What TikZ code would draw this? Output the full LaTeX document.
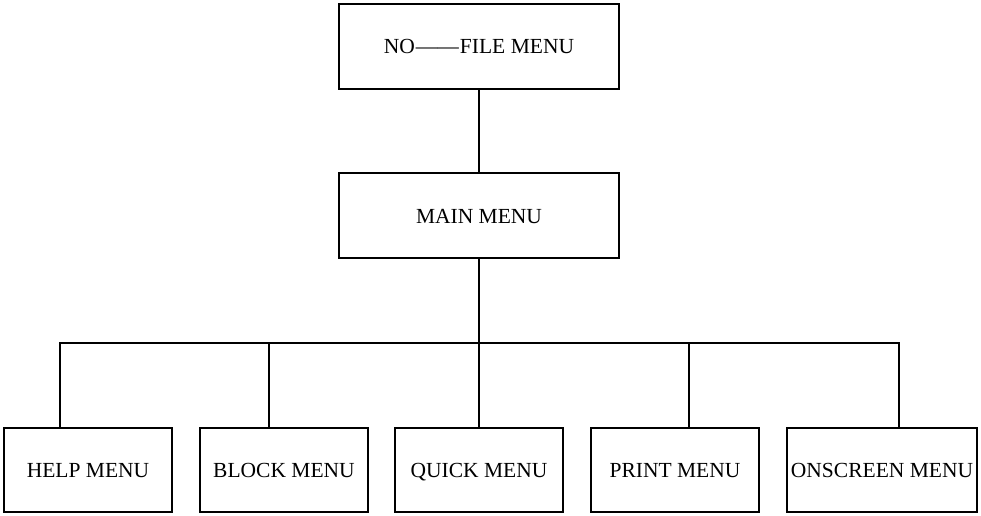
\documentclass[tikz,border=0pt]{standalone}
\usepackage{fontspec}
\setmainfont{Liberation Serif}
\begin{document}
\begin{tikzpicture}[x=1pt,y=1pt,
  menubox/.style={draw, line width=1.3pt, rectangle, minimum height=85pt, inner sep=0pt, text height=15pt, text depth=0pt, font=\fontsize{21.5}{24}\selectfont},
  link/.style={line width=1.3pt, line join=miter}]
\useasboundingbox (0,0) rectangle (981,515);
\node[menubox, minimum width=280pt] (nofile) at (479,468.5) {NO\kern1pt——\kern1pt FILE MENU};
\node[menubox, minimum width=280pt] (main) at (479,299.5) {MAIN MENU};
\node[menubox, minimum width=168pt, minimum height=84pt] (help) at (88,45) {HELP MENU};
\node[menubox, minimum width=168pt, minimum height=84pt] (block) at (284,45) {BLOCK MENU};
\node[menubox, minimum width=168pt, minimum height=84pt] (quick) at (479,45) {QUICK MENU};
\node[menubox, minimum width=168pt, minimum height=84pt] (print) at (675,45) {PRINT MENU};
\node[menubox, minimum width=190pt, minimum height=84pt] (onscreen) at (882,45) {ONSCREEN MENU};
\coordinate (bus) at (479,172);
\draw[link] (nofile.south) -- (main.north);
\draw[link] (main.south) -- (quick.north);
\coordinate (busL) at ([xshift=-28pt]help.north |- bus);
\coordinate (busR) at ([xshift=17pt]onscreen.north |- bus);
\draw[link] ([xshift=-28pt]help.north) -- (busL) -- (busR) -- ([xshift=17pt]onscreen.north);
\draw[link] ([xshift=-15pt]block.north |- bus) -- ([xshift=-15pt]block.north);
\draw[link] ([xshift=14pt]print.north |- bus) -- ([xshift=14pt]print.north);
\end{tikzpicture}
\end{document}
